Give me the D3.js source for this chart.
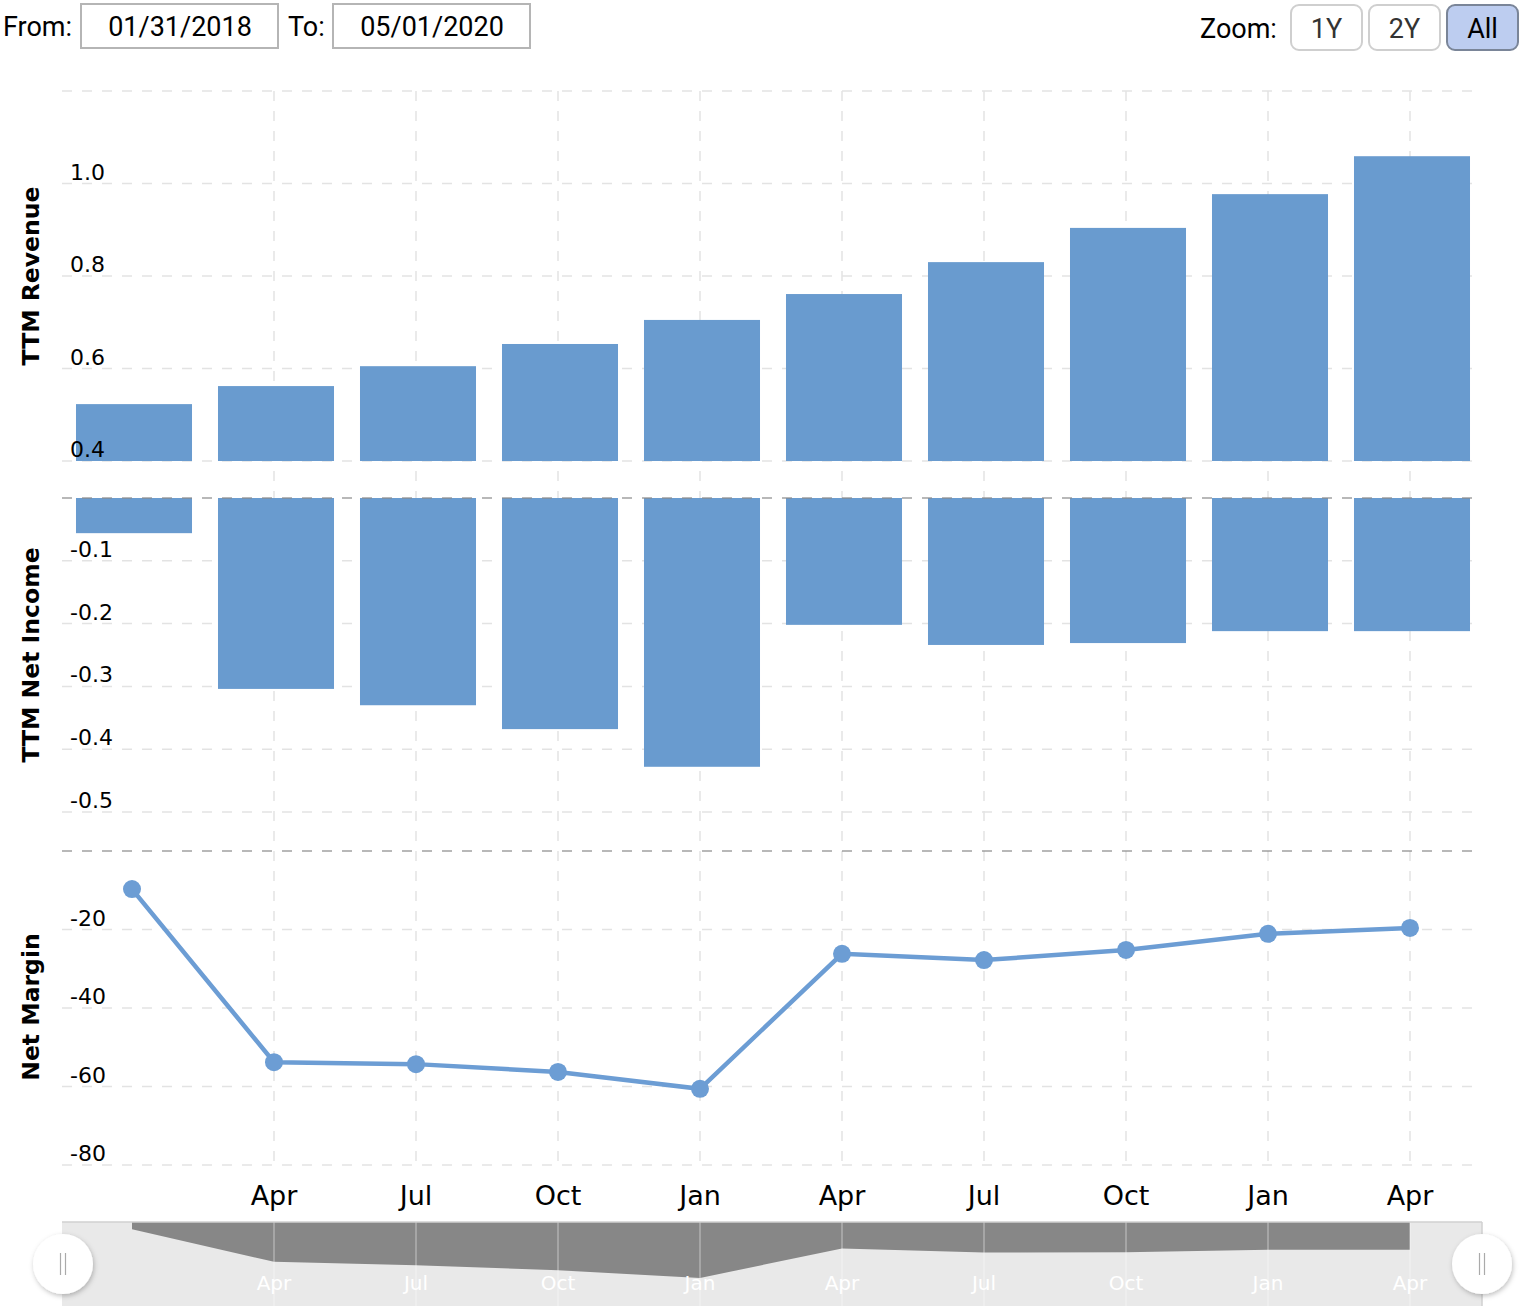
<!DOCTYPE html>
<html><head><meta charset="utf-8">
<script src="https://cdn.jsdelivr.net/npm/d3@7"></script>
<style>
body{margin:0;background:#fff;}
svg{display:block;}
</style></head>
<body>
<svg id="chart" width="1524" height="1306"></svg>
<script>
const dates = ["2018-01-31","2018-04-30","2018-07-31","2018-10-31","2019-01-31","2019-04-30","2019-07-31","2019-10-31","2020-01-31","2020-04-30"];
const monthLabels = ["Jan","Apr","Jul","Oct","Jan","Apr","Jul","Oct","Jan","Apr"];
const revenue = [0.523,0.562,0.605,0.653,0.705,0.761,0.830,0.904,0.977,1.059];
const netIncome = [-0.056,-0.304,-0.330,-0.368,-0.428,-0.202,-0.234,-0.231,-0.212,-0.212];
const netMargin = [-9.7,-53.8,-54.3,-56.3,-60.6,-26.2,-27.8,-25.2,-21.1,-19.6];
const revTicks = [0.4,0.6,0.8,1.0];
const niTicks = [-0.5,-0.4,-0.3,-0.2,-0.1];
const nmTicks = [-80,-60,-40,-20];

const svg = d3.select("#chart");
const L = 62, R = 1472;
const x = d3.scaleLinear().domain([0, dates.length-1]).range([132, 1410]);
const step = x(1)-x(0);
const barW = step*0.817;
const yRev = d3.scaleLinear().domain([0.4,1.2]).range([461,91]);
const yNI = d3.scaleLinear().domain([-0.5,0]).range([812,498]);
const yNM = d3.scaleLinear().domain([-80,0]).range([1165,851]);
const barColor = "#699bcf";
const lineColor = "#6c9dd4";
const gridColor = "#e3e3e3";

// ---- top controls ----
const topFont = "Roboto, 'Noto Sans', sans-serif";
svg.append("text").attr("x",3).attr("y",36).attr("font-family",topFont).attr("font-size",27).attr("fill","#000").text("From:");
svg.append("rect").attr("x",81).attr("y",4).attr("width",197).attr("height",44).attr("fill","#fff").attr("stroke","#b5b5b5").attr("stroke-width",2);
svg.append("text").attr("x",180).attr("y",36).attr("text-anchor","middle").attr("font-family",topFont).attr("font-size",27).attr("fill","#000").text("01/31/2018");
svg.append("text").attr("x",288).attr("y",36).attr("font-family",topFont).attr("font-size",27).attr("fill","#000").text("To:");
svg.append("rect").attr("x",333).attr("y",4).attr("width",197).attr("height",44).attr("fill","#fff").attr("stroke","#b5b5b5").attr("stroke-width",2);
svg.append("text").attr("x",432).attr("y",36).attr("text-anchor","middle").attr("font-family",topFont).attr("font-size",27).attr("fill","#000").text("05/01/2020");
svg.append("text").attr("x",1200).attr("y",38).attr("font-family",topFont).attr("font-size",27).attr("fill","#000").text("Zoom:");
const buttons = [{t:"1Y",x:1291,sel:false},{t:"2Y",x:1369,sel:false},{t:"All",x:1447,sel:true}];
buttons.forEach(b=>{
  svg.append("rect").attr("x",b.x).attr("y",5).attr("width",71).attr("height",45).attr("rx",8)
    .attr("fill",b.sel?"#bdcdf0":"#fff").attr("stroke",b.sel?"#7a8598":"#cfcfcf").attr("stroke-width",2);
  svg.append("text").attr("x",b.x+35.5).attr("y",38).attr("text-anchor","middle").attr("font-family",topFont)
    .attr("font-size",27).attr("fill",b.sel?"#000":"#333").text(b.t);
});

// ---- gridlines ----
const grid = svg.append("g");
function hGrid(ys, color){
  ys.forEach(yv=>{
    grid.append("line").attr("x1",L).attr("x2",R).attr("y1",yv).attr("y2",yv)
      .attr("stroke",color).attr("stroke-width",1.5).attr("stroke-dasharray","10,10");
  });
}
hGrid([...revTicks,1.2].map(yRev), gridColor);
hGrid(niTicks.map(yNI), gridColor);
hGrid(nmTicks.map(yNM), gridColor);
d3.range(1,dates.length).forEach(i=>{
  grid.append("line").attr("x1",x(i)).attr("x2",x(i)).attr("y1",91).attr("y2",1168)
    .attr("stroke",gridColor).attr("stroke-width",1.5).attr("stroke-dasharray","10,10");
});

// ---- bars ----
svg.append("g").selectAll("rect").data(revenue).join("rect")
  .attr("x",(d,i)=>x(i)+2-barW/2).attr("width",barW)
  .attr("y",d=>yRev(d)).attr("height",d=>yRev(0.4)-yRev(d)).attr("fill",barColor);
svg.append("g").selectAll("rect").data(netIncome).join("rect")
  .attr("x",(d,i)=>x(i)+2-barW/2).attr("width",barW)
  .attr("y",yNI(0)).attr("height",d=>yNI(d)-yNI(0)).attr("fill",barColor);

[yNI(0), yNM(0)].forEach(yv=>{
  svg.append("line").attr("x1",L).attr("x2",R).attr("y1",yv).attr("y2",yv)
    .attr("stroke","#888").attr("stroke-opacity",0.6).attr("stroke-width",2).attr("stroke-dasharray","10,10");
});

// ---- line ----
const line = d3.line().x((d,i)=>x(i)).y(d=>yNM(d));
svg.append("path").datum(netMargin).attr("d",line).attr("fill","none").attr("stroke",lineColor).attr("stroke-width",4.5);
svg.append("g").selectAll("circle").data(netMargin).join("circle")
  .attr("cx",(d,i)=>x(i)).attr("cy",d=>yNM(d)).attr("r",9).attr("fill",lineColor);

// ---- y tick labels ----
const tickFont = "'DejaVu Sans', Verdana, sans-serif";
function yLabels(ticks, scale, fmt){
  svg.append("g").selectAll("text").data(ticks).join("text")
    .attr("x",70).attr("y",d=>scale(d)-4).attr("font-family",tickFont).attr("font-size",22).attr("fill","#000")
    .text(fmt);
}
yLabels(revTicks, yRev, d=>d.toFixed(1));
yLabels(niTicks, yNI, d=>d.toFixed(1));
yLabels(nmTicks, yNM, d=>String(d));

// ---- axis titles ----
function yTitle(txt, cy){
  svg.append("text").attr("transform",`translate(39,${cy}) rotate(-90)`).attr("text-anchor","middle")
    .attr("font-family",tickFont).attr("font-weight","bold").attr("font-size",23.5).attr("fill","#000").text(txt);
}
yTitle("TTM Revenue", 276);
yTitle("TTM Net Income", 655);
yTitle("Net Margin", 1007);

// ---- x axis labels ----
svg.append("g").selectAll("text").data(d3.range(1,dates.length)).join("text")
  .attr("x",i=>x(i)).attr("y",1205).attr("text-anchor","middle").attr("font-family",tickFont)
  .attr("font-size",27).attr("fill","#000").text(i=>monthLabels[i]);

// ---- navigator (shows TTM Net Income) ----
const navTop = 1222, navL = 62, navR = 1482;
const yNav = d3.scaleLinear().domain([-0.428,0]).range([1278,navTop]);
svg.append("rect").attr("x",navL).attr("y",navTop).attr("width",navR-navL).attr("height",1306-navTop).attr("fill","#e9e9e9");
const area = d3.area().x((d,i)=>x(i)).y0(yNav(0)).y1(d=>yNav(d));
svg.append("path").datum(netIncome).attr("d",area).attr("fill","#878787");
d3.range(1,dates.length).forEach(i=>{
  svg.append("line").attr("x1",x(i)).attr("x2",x(i)).attr("y1",navTop).attr("y2",1306)
    .attr("stroke","#fff").attr("stroke-opacity",0.35).attr("stroke-width",1.5);
});
svg.append("g").selectAll("text").data(d3.range(1,dates.length)).join("text")
  .attr("x",i=>x(i)).attr("y",1290).attr("text-anchor","middle").attr("font-family",tickFont)
  .attr("font-size",20).attr("fill","#fff").text(i=>monthLabels[i]);
svg.append("line").attr("x1",navL).attr("x2",navR).attr("y1",navTop).attr("y2",navTop).attr("stroke","#d0d0d0").attr("stroke-width",1.5);
svg.append("line").attr("x1",navR).attr("x2",navR).attr("y1",navTop).attr("y2",1306).attr("stroke","#d0d0d0").attr("stroke-width",1.5);

const defs = svg.append("defs");
const f = defs.append("filter").attr("id","sh").attr("x","-50%").attr("y","-50%").attr("width","200%").attr("height","200%");
f.append("feDropShadow").attr("dx",1).attr("dy",2).attr("stdDeviation",2.5).attr("flood-color","#000").attr("flood-opacity",0.25);
[63, 1482].forEach(cx=>{
  svg.append("circle").attr("cx",cx).attr("cy",1264).attr("r",30).attr("fill","#fff").attr("filter","url(#sh)");
  [-2.5,2.5].forEach(dx=>{
    svg.append("line").attr("x1",cx+dx).attr("x2",cx+dx).attr("y1",1253).attr("y2",1275).attr("stroke","#aaa").attr("stroke-width",1.2);
  });
});
</script>
</body></html>
